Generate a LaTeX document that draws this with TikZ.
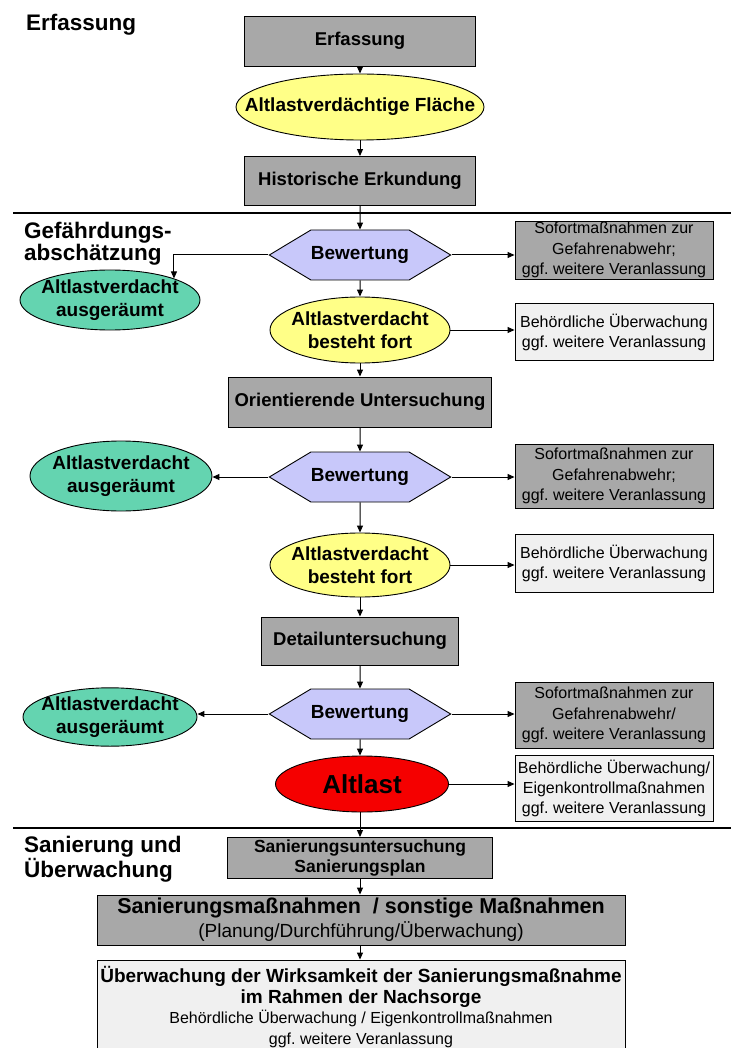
\documentclass[tikz,border=0pt]{standalone}
\usepackage{fontspec}
\setmainfont{Liberation Sans}
\usetikzlibrary{positioning, arrows.meta, shapes.geometric, shapes.symbols, calc}
\frenchspacing

\definecolor{boxgray}{RGB}{168,168,168}
\definecolor{ovalyellow}{RGB}{255,255,135}
\definecolor{ovalcyan}{RGB}{100,212,176}
\definecolor{hexblue}{RGB}{200,200,250}
\definecolor{dotgray}{RGB}{240,240,240}
\definecolor{altred}{RGB}{245,0,0}

\begin{document}
\begin{tikzpicture}[x=1pt, y=-1pt,
  every node/.style={inner sep=0pt, align=center},
  conn/.style={line width=1pt, -{Triangle[length=7pt,width=6pt]}},
  sectitle/.style={align=left, font=\bfseries\fontsize{22.5}{20}\selectfont},
  flowbox/.style={draw, line width=0.9pt, fill=boxgray, font=\bfseries\fontsize{18.5}{21}\selectfont},
  sidebox/.style={draw, line width=0.9pt, fill=boxgray, minimum width=198pt, font=\fontsize{16}{20.5}\selectfont},
  notebox/.style={draw, line width=0.9pt, fill=dotgray, minimum width=198pt, font=\fontsize{16}{20}\selectfont},
  oval/.style={ellipse, draw, line width=0.9pt, inner xsep=-10pt, font=\bfseries\fontsize{19}{23.5}\selectfont},
  hexa/.style={signal, signal to=east and west, signal pointer angle=62, draw, line width=0.9pt,
    fill=hexblue, minimum width=172pt, minimum height=50pt, font=\bfseries\fontsize{19}{22}\selectfont},
  secline/.style={line width=2pt}
]
\useasboundingbox (0,0) rectangle (731,1048);

% --- Section titles ---
\node[sectitle, anchor=north west] (tErf) at (26,14) {Erfassung};
\node[sectitle, anchor=north west] (tGef) at (24,222) {Gefährdungs-\\abschätzung};
\node[sectitle, anchor=north west] (tSan) at (24,836) {Sanierung und\\Überwachung};

% --- Section lines ---
\draw[secline] (13,213) -- (731,213);
\draw[secline] (13,828) -- (731,828);

% --- Erfassung ---
\node[flowbox, minimum width=231pt, minimum height=50pt] (erf) at (360,41) {Erfassung};
\node[oval, fill=ovalyellow, inner xsep=-30pt, minimum width=248pt, minimum height=66pt] (flaeche) at (360,107)
  {Altlastverdächtige Fläche};
\node[flowbox, minimum width=231pt, minimum height=49pt] (hist) at (360,181) {Historische Erkundung};

% --- Gefaehrdungsabschaetzung, step 1 ---
\node[hexa] (bew1) at (360,255) {Bewertung};
\node[sidebox, minimum height=58pt] (sof1) at (614,250)
  {Sofortmaßnahmen zur\\Gefahrenabwehr;\\ggf. weitere Veranlassung};
\node[oval, fill=ovalcyan, minimum width=180pt, minimum height=60pt] (aus1) at (110,300)
  {Altlastverdacht\\ausgeräumt};
\node[oval, fill=ovalyellow, minimum width=180pt, minimum height=66pt] (fort1) at (360,330)
  {Altlastverdacht\\besteht fort};
\node[notebox, minimum height=57pt] (ueb1) at (614,332)
  {Behördliche Überwachung\\ggf. weitere Veranlassung};

% --- step 2 ---
\node[flowbox, minimum width=263pt, minimum height=50pt] (orient) at (360,402) {Orientierende Untersuchung};
\node[hexa] (bew2) at (360,477) {Bewertung};
\node[oval, fill=ovalcyan, minimum width=182pt, minimum height=70pt] (aus2) at (121,476)
  {Altlastverdacht\\ausgeräumt};
\node[sidebox, minimum height=64pt] (sof2) at (614,476)
  {Sofortmaßnahmen zur\\Gefahrenabwehr;\\ggf. weitere Veranlassung};
\node[oval, fill=ovalyellow, minimum width=180pt, minimum height=64pt] (fort2) at (360,565)
  {Altlastverdacht\\besteht fort};
\node[notebox, minimum height=58pt] (ueb2) at (614,563)
  {Behördliche Überwachung\\ggf. weitere Veranlassung};

% --- step 3 ---
\node[flowbox, minimum width=197pt, minimum height=48pt] (detail) at (360,641) {Detailuntersuchung};
\node[hexa] (bew3) at (360,714) {Bewertung};
\node[oval, fill=ovalcyan, minimum width=174pt, minimum height=56pt] (aus3) at (110,717)
  {Altlastverdacht\\ausgeräumt};
\node[sidebox, minimum height=66pt] (sof3) at (614,715)
  {Sofortmaßnahmen zur\\Gefahrenabwehr/\\ggf. weitere Veranlassung};
\node[oval, fill=altred, minimum width=173pt, minimum height=56pt,
  font=\bfseries\fontsize{26}{28}\selectfont] (altlast) at (362,784) {Altlast};
\node[notebox, minimum height=66pt] (ueb3) at (614,788)
  {Behördliche Überwachung/\\Eigenkontrollmaßnahmen\\ggf. weitere Veranlassung};

% --- Sanierung und Ueberwachung ---
\node[flowbox, minimum width=265pt, minimum height=41pt, font=\bfseries\fontsize{17.5}{20}\selectfont] (sanunt)
  at (360,858) {Sanierungsuntersuchung\\Sanierungsplan};
\node[flowbox, minimum width=528pt, minimum height=50pt, font=\fontsize{19}{24}\selectfont] (sanmass)
  at (361,920) {{\bfseries\fontsize{21.5}{24}\selectfont Sanierungsmaßnahmen~~/ sonstige Maßnahmen}\\
  (Planung/Durchführung/Überwachung)};
\node[notebox, minimum width=528pt, minimum height=94pt, font=\fontsize{16}{20.5}\selectfont] (wirk)
  at (361,1007) {{\bfseries\fontsize{19}{20.5}\selectfont Überwachung der Wirksamkeit der Sanierungsmaßnahme}\\
  {\bfseries\fontsize{19}{20.5}\selectfont im Rahmen der Nachsorge}\\
  Behördliche Überwachung / Eigenkontrollmaßnahmen\\ggf. weitere Veranlassung};

% --- Connectors ---
\draw[conn] (erf) -- (flaeche);
\draw[conn] (flaeche) -- (hist);
\draw[conn] (hist) -- (bew1);
\draw[conn] (bew1.west) -| (aus1.north east);
\draw[conn] (bew1.east) -- (bew1.east -| sof1.west);
\draw[conn] (bew1) -- (fort1);
\draw[conn] (fort1.east) -- (fort1.east -| ueb1.west);
\draw[conn] (fort1) -- (orient);
\draw[conn] (orient) -- (bew2);
\draw[conn] (bew2.west) -- (bew2.west -| aus2.east);
\draw[conn] (bew2.east) -- (bew2.east -| sof2.west);
\draw[conn] (bew2) -- (fort2);
\draw[conn] (fort2.east) -- (fort2.east -| ueb2.west);
\draw[conn] (fort2) -- (detail);
\draw[conn] (detail) -- (bew3);
\draw[conn] (bew3.west) -- (bew3.west -| aus3.east);
\draw[conn] (bew3.east) -- (bew3.east -| sof3.west);
\draw[conn] (bew3) -- (bew3 |- altlast.north);
\draw[conn] (altlast.east) -- (altlast.east -| ueb3.west);
\draw[conn] (bew3 |- altlast.south) -- (bew3 |- sanunt.north);
\draw[conn] (sanunt) -- (sanunt |- sanmass.north);
\draw[conn] (sanunt |- sanmass.south) -- (sanunt |- wirk.north);

\end{tikzpicture}
\end{document}
